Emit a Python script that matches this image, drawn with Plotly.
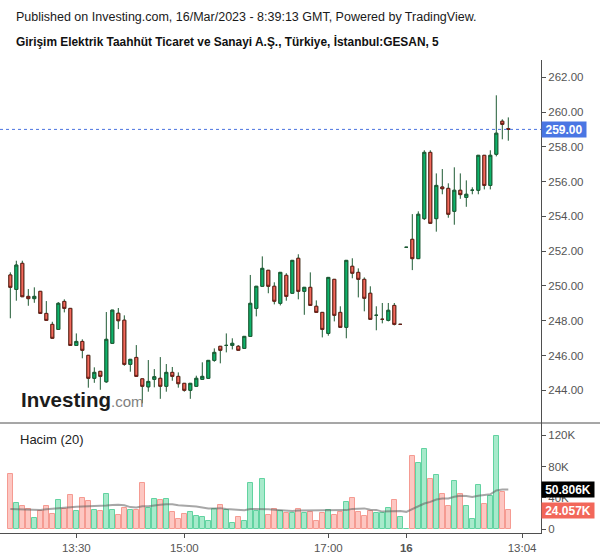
import plotly.graph_objects as go
import pandas as pd

# ---------------- data (5-minute candles, GESAN) ----------------
opens = [250.63, 249.80, 251.30, 249.40, 249.27, 249.69, 248.42, 247.79, 247.50, 249.11,
         248.71, 246.58, 246.81, 246.01, 244.69, 245.09, 244.49, 246.70, 248.43, 248.03,
         245.49, 245.89, 244.66, 244.20, 244.63, 244.69, 244.23, 245.03, 244.80, 244.40,
         244.00, 244.23, 244.63, 244.69, 245.72, 246.53, 246.58, 246.58, 246.53, 246.41,
         247.10, 248.71, 249.98, 250.90, 249.98, 249.00, 250.61, 249.58, 251.59, 249.69,
         249.92, 248.83, 248.48, 247.27, 250.38, 248.48, 247.62, 251.13, 250.78, 250.38,
         249.58, 248.31, 248.08, 248.02, 248.88, 247.79, 252.22, 252.68, 251.57, 253.87,
         257.68, 253.87, 255.69, 255.61, 254.29, 255.50, 255.09, 255.50, 255.50, 257.51,
         255.78, 257.57, 259.47, 259.05]
highs = [250.78, 251.45, 251.45, 249.82, 249.92, 249.69, 249.13, 247.94, 249.07, 249.23,
         248.71, 247.27, 246.93, 246.01, 245.32, 245.09, 248.50, 248.61, 248.73, 248.31,
         245.78, 246.60, 244.66, 245.74, 245.22, 245.91, 245.51, 245.34, 245.03, 244.40,
         244.40, 244.84, 245.61, 245.72, 246.41, 246.53, 247.27, 246.99, 246.60, 247.10,
         250.63, 249.98, 251.70, 250.90, 250.21, 250.78, 250.73, 251.47, 251.82, 249.92,
         250.78, 249.17, 248.48, 250.49, 250.38, 248.83, 251.47, 251.59, 251.01, 250.49,
         249.98, 248.83, 249.02, 249.02, 249.02, 247.79, 252.22, 254.13, 254.29, 257.80,
         257.80, 256.47, 256.72, 255.90, 256.82, 256.47, 256.07, 255.67, 257.51, 257.51,
         257.80, 260.96, 259.58, 259.69]
lows = [248.14, 249.15, 249.38, 248.86, 249.03, 248.42, 248.02, 246.99, 247.50, 248.48,
        246.58, 246.58, 245.84, 244.15, 244.43, 244.03, 244.43, 246.70, 247.52, 245.41,
        245.07, 244.80, 243.25, 243.92, 244.17, 243.51, 243.92, 244.55, 244.15, 243.92,
        243.51, 244.20, 244.63, 244.69, 245.64, 245.55, 246.18, 246.35, 246.30, 246.41,
        247.10, 248.25, 249.98, 249.58, 248.94, 248.88, 249.15, 249.58, 249.23, 248.34,
        248.88, 248.48, 247.04, 247.14, 247.96, 247.62, 246.99, 250.44, 249.34, 248.54,
        248.08, 247.45, 247.85, 247.96, 247.73, 247.79, 252.22, 250.91, 251.57, 253.79,
        253.60, 253.12, 255.27, 253.92, 253.52, 255.01, 254.55, 255.27, 255.27, 255.55,
        255.55, 257.45, 258.43, 258.35]
closes = [249.92, 251.20, 249.38, 249.27, 249.40, 248.42, 248.02, 246.99, 249.00, 248.71,
          246.58, 246.81, 246.30, 244.69, 245.03, 244.80, 246.93, 248.61, 248.00, 245.49,
          245.78, 244.80, 244.23, 244.51, 244.78, 244.23, 245.03, 244.80, 244.38, 244.00,
          244.40, 244.69, 244.80, 245.72, 246.18, 246.30, 246.58, 246.70, 246.30, 247.10,
          249.00, 249.98, 251.01, 249.98, 249.12, 250.78, 249.40, 251.47, 249.69, 249.92,
          248.88, 248.48, 247.50, 250.49, 248.31, 247.62, 251.47, 250.73, 250.38, 249.29,
          248.08, 248.31, 248.08, 248.60, 247.79, 247.79, 252.22, 251.57, 254.12, 257.68,
          253.60, 255.78, 255.59, 254.12, 255.50, 255.25, 255.27, 255.50, 257.51, 255.78,
          257.51, 258.78, 259.29, 259.00]
volumes = [70500, 33300, 29500, 25200, 13700, 23100, 29100, 19200, 36800, 25200,
           43200, 22600, 39300, 35900, 24400, 23100, 44900, 24400, 17500, 26900,
           24400, 24400, 59000, 26900, 38500, 37200, 38000, 21800, 12400, 19200,
           21800, 16200, 15400, 10300, 25600, 30300, 24800, 7700, 15400, 10300,
           59000, 23100, 64100, 17900, 25200, 23100, 20500, 20500, 25600, 20500,
           21800, 10300, 20500, 24400, 17900, 21800, 34600, 39300, 21800, 16700,
           23100, 20500, 20500, 26900, 37200, 15400, 500, 93600, 84600, 102600,
           64100, 69200, 44900, 29500, 61500, 44900, 29500, 12800, 56400, 32100,
           42300, 119200, 47400, 24057]
# 20-period volume average for the first bars (window reaches before the visible data)
vol_ma_lead = [25600, 25400, 25200, 25000, 24600, 24400, 25200, 26000, 26600, 27200,
               28000, 28400, 28800, 29000, 29300, 29600, 30200, 30800, 31200]

tick_pos = [11, 29, 53, 66, 85.3]
tick_text = ["13:30", "15:00", "17:00", "<b>16</b>", "13:04"]
price_ticks = [244, 246, 248, 250, 252, 254, 256, 258, 260, 262]
vol_ticks = [0, 40000, 80000, 120000]
vol_tick_text = ["0", "40K", "80K", "120K"]
last_price = 259.00
last_vol_ma_label = "50.806K"
last_vol_label = "24.057K"
last_vol_ma_value = 50806
last_vol_value = 24057

# ---------------- derived ----------------
n = len(opens)
xs = list(range(n))
body_hi = [max(o, c) for o, c in zip(opens, closes)]
body_lo = [min(o, c) for o, c in zip(opens, closes)]
vol_series = pd.Series(volumes, dtype=float)
roll = vol_series.rolling(20).mean().tolist()
vol_ma = vol_ma_lead + roll[len(vol_ma_lead):]

GREEN = "#0cb46b"
GREEN_D = "#1d5a34"
RED = "#f26a5b"
RED_D = "#6a1c16"
WICK = "#1f5a34"
up = [c >= o for o, c in zip(opens, closes)]
vol_fill = ["#a7eacb" if u else "#fdc7c2" for u in up]
vol_line = ["#62d3a1" if u else "#f59b92" for u in up]

FONT = "Liberation Sans, Arial, sans-serif"
AX = "#4f4f4f"

fig = go.Figure()

# wicks (all dark green)
fig.add_trace(go.Candlestick(
    x=xs, open=opens, high=highs, low=lows, close=closes,
    increasing=dict(line=dict(color=WICK, width=1), fillcolor="rgba(0,0,0,0)"),
    decreasing=dict(line=dict(color=WICK, width=1), fillcolor="rgba(0,0,0,0)"),
    whiskerwidth=0, showlegend=False, hoverinfo="skip",
    xaxis="x", yaxis="y"))
# bodies
fig.add_trace(go.Candlestick(
    x=xs, open=opens, high=body_hi, low=body_lo, close=closes,
    increasing=dict(line=dict(color=GREEN_D, width=1), fillcolor=GREEN),
    decreasing=dict(line=dict(color=RED_D, width=1), fillcolor=RED),
    whiskerwidth=0, showlegend=False,
    xaxis="x", yaxis="y"))

# volume bars
fig.add_trace(go.Bar(
    x=xs, y=volumes, marker=dict(color=vol_fill, line=dict(color=vol_line, width=1)),
    width=0.86, showlegend=False, xaxis="x2", yaxis="y2"))
fig.add_trace(go.Scatter(
    x=xs, y=vol_ma, mode="lines", line=dict(color="rgba(95,95,95,0.55)", width=2),
    showlegend=False, xaxis="x2", yaxis="y2"))

W, H = 600, 558
ML, MR, MT, MB = 0, 59, 60, 25
PW = W - ML - MR
PH = H - MT - MB


def px(xp):
    return (xp - ML) / PW


def py(yp):
    return (H - MB - yp) / PH


split = py(423)
xr = [-1.72, 88.45]

fig.update_layout(
    width=W, height=H,
    margin=dict(l=ML, r=MR, t=MT, b=MB),
    paper_bgcolor="white", plot_bgcolor="white",
    font=dict(family=FONT, size=12, color="#222"),
    showlegend=False,
    bargap=0,
    xaxis=dict(domain=[0, 1], anchor="y", range=xr, showticklabels=False,
               showgrid=False, zeroline=False, showline=False,
               rangeslider=dict(visible=False), fixedrange=True),
    yaxis=dict(domain=[split, 1], anchor="x", side="right", range=[242.12, 262.99],
               tickvals=price_ticks, ticktext=[f"{v:.2f}" for v in price_ticks],
               showgrid=False, zeroline=False, showline=True, linecolor=AX, linewidth=1,
               ticks="outside", ticklen=4, tickcolor=AX,
               tickfont=dict(family=FONT, size=11.5, color="#555")),
    xaxis2=dict(domain=[0, 1], anchor="y2", range=xr, matches="x",
                tickvals=tick_pos, ticktext=tick_text,
                showgrid=False, zeroline=False, showline=True, linecolor=AX, linewidth=1,
                ticks="outside", ticklen=4, tickcolor=AX,
                tickfont=dict(family=FONT, size=11.5, color="#555")),
    yaxis2=dict(domain=[0, split], anchor="x2", side="right", range=[-5128, 135900],
                tickvals=vol_ticks, ticktext=vol_tick_text,
                showgrid=False, zeroline=False, showline=True, linecolor=AX, linewidth=1,
                ticks="outside", ticklen=4, tickcolor=AX,
                tickfont=dict(family=FONT, size=11.5, color="#555")),
)

shapes = [
    dict(type="line", xref="paper", yref="paper", x0=0, x1=W / PW, y0=split, y1=split,
         line=dict(color=AX, width=1)),
    dict(type="line", xref="paper", yref="y", x0=0, x1=1, y0=last_price, y1=last_price,
         line=dict(color="#4a74e0", width=1, dash="dot")),
]
fig.update_layout(shapes=shapes)

ann = [
    dict(text="Published on Investing.com, 16/Mar/2023 - 8:39:13 GMT, Powered by TradingView.",
         xref="paper", yref="paper", x=px(14), y=py(17), xanchor="left", yanchor="middle",
         showarrow=False, font=dict(family=FONT, size=12.5, color="#1a1a1a")),
    dict(text="<b>Girişim Elektrik Taahhüt Ticaret ve Sanayi A.Ş., Türkiye, İstanbul:GESAN, 5</b>",
         xref="paper", yref="paper", x=px(14), y=py(41), xanchor="left", yanchor="middle",
         showarrow=False, font=dict(family=FONT, size=11.9, color="#111")),
    dict(text="Hacim (20)", xref="paper", yref="paper", x=px(18), y=py(439),
         xanchor="left", yanchor="middle", showarrow=False,
         font=dict(family=FONT, size=13, color="#222")),
    dict(text="<b>Investing</b><span style='font-size:15px;color:#808080'>.com</span>",
         xref="paper", yref="paper", x=px(19), y=py(400), xanchor="left", yanchor="middle",
         showarrow=False, font=dict(family=FONT, size=20.5, color="#1c1c1c")),
    dict(text=f"<b>{last_price:.2f}</b>", xref="paper", yref="y", x=1, y=last_price,
         xanchor="left", yanchor="middle", showarrow=False, bgcolor="#4a76e3",
         borderpad=1, width=42, height=13, align="center",
         font=dict(family=FONT, size=12, color="white")),
    dict(text=f"<b>{last_vol_ma_label}</b>", xref="paper", yref="y2", x=1, y=last_vol_ma_value,
         xanchor="left", yanchor="middle", showarrow=False, bgcolor="#000000",
         borderpad=1, width=50, height=13, align="center",
         font=dict(family=FONT, size=12, color="white")),
    dict(text=f"<b>{last_vol_label}</b>", xref="paper", yref="y2", x=1, y=last_vol_value,
         xanchor="left", yanchor="middle", showarrow=False, bgcolor="#f2675a",
         borderpad=1, width=50, height=13, align="center",
         font=dict(family=FONT, size=12, color="white")),
]
fig.update_layout(annotations=ann)

fig.write_html("out.html",
               config={"displayModeBar": False},
               post_script="document.body.style.margin='0';document.body.style.padding='0';")
